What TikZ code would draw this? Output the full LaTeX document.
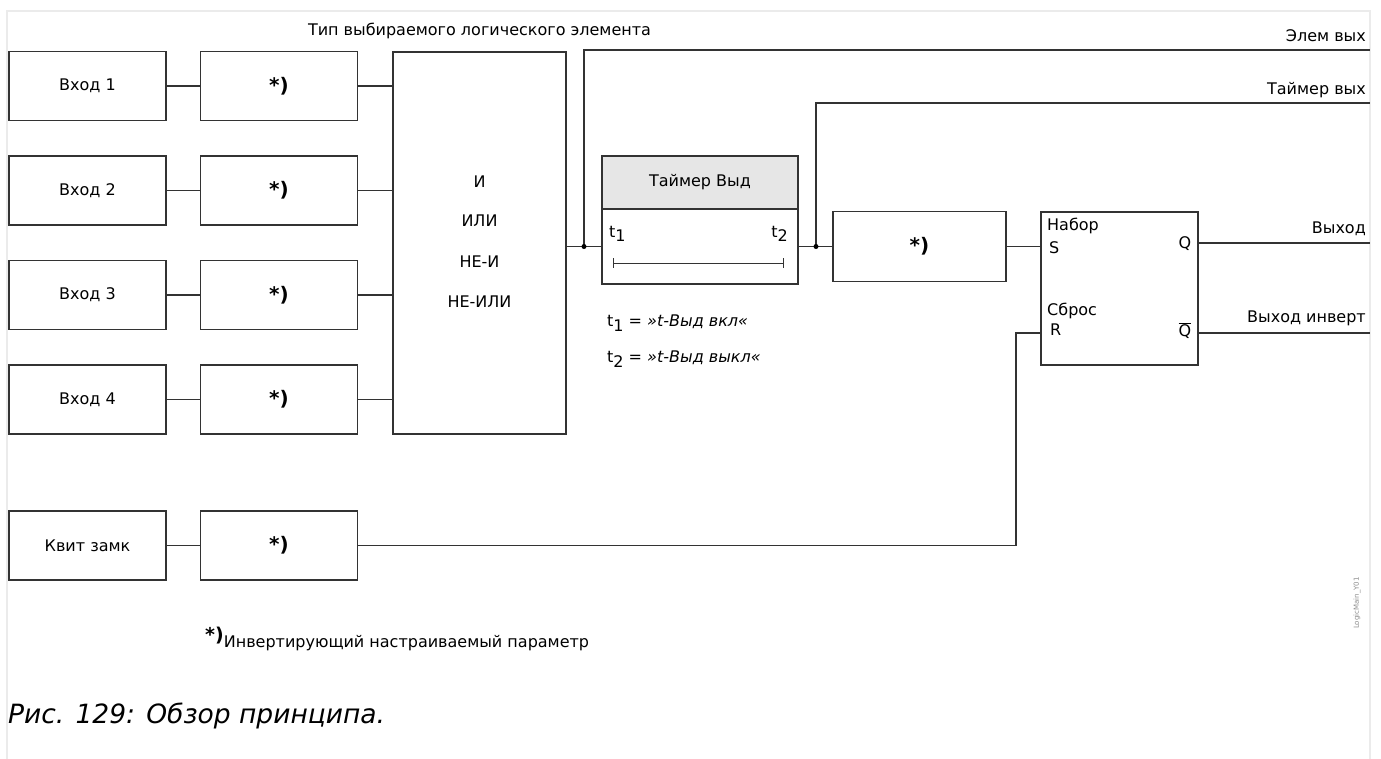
\documentclass[tikz,border=0pt]{standalone}
\usepackage{fontspec}
\setmainfont{DejaVu Sans}
\newcommand\fs{\fontsize{16}{18}\selectfont}
\newcommand\fsb{\fontsize{20}{22}\selectfont\bfseries}
\newcommand\tsub[1]{t\raisebox{-0.5ex}{#1}}
\definecolor{frame}{HTML}{EBEBEB}
\definecolor{head}{HTML}{E6E6E6}
\definecolor{ln}{HTML}{333333}
\begin{document}
\begin{tikzpicture}[x=1pt,y=-1pt,
  box/.style={draw=ln, line width=1.2pt, minimum width=157pt, minimum height=69pt, inner sep=0pt, font=\fs},
  sbox/.style={box, font=\fsb},
  conn/.style={draw=ln, line width=1.2pt},
  lbl/.style={inner sep=0pt, font=\fs},
  dot/.style={circle, fill=black, inner sep=0pt, minimum size=5pt}]
\useasboundingbox (0,0) rectangle (1381,758);
\draw[frame, line width=2pt] (7,760) -- (7,11) -- (1370,11) -- (1370,760);

% inputs
\node[box] (in1) at (87.5,86) {Вход 1};
\node[box] (in2) at (87.5,190.5) {Вход 2};
\node[box] (in3) at (87.5,295) {Вход 3};
\node[box] (in4) at (87.5,399.5) {Вход 4};
\node[box] (in5) at (87.5,545.5) {Квит замк};
\node[sbox] (s1) at (279,86) {*)};
\node[sbox] (s2) at (279,190.5) {*)};
\node[sbox] (s3) at (279,295) {*)};
\node[sbox] (s4) at (279,399.5) {*)};
\node[sbox] (s5) at (279,545.5) {*)};

% logic element
\node[box, minimum width=173pt, minimum height=382pt] (logic) at (479.5,243) {};
\node[lbl] (lA) at (479.5,182) {И};
\node[lbl] (lB) at (479.5,221) {ИЛИ};
\node[lbl] (lC) at (479.5,262) {НЕ-И};
\node[lbl] (lD) at (479.5,302) {НЕ-ИЛИ};
\node[lbl, anchor=base] (title) at (479.5,35) {Тип выбираемого логического элемента};

\foreach \i in {1,...,4}{
  \draw[conn] (in\i.east) -- (s\i.west);
  \draw[conn] (s\i.east) -- (s\i.east -| logic.west);
}
\draw[conn] (in5.east) -- (s5.west);

% timer
\node[box, fill=head, minimum width=196pt, minimum height=53pt] (th) at (700,182.5) {Таймер Выд};
\node[box, minimum width=196pt, minimum height=75pt] (tb) at (700,246.5) {};
\node[lbl, anchor=west] (t1) at (609,234) {\tsub{1}};
\node[lbl, anchor=east] (t2) at (788,234) {\tsub{2}};
\coordinate (ba) at (613,263);
\coordinate (bb) at (783,263);
\draw[ln, line width=1pt] (ba) -- (bb);
\draw[ln, line width=1pt] ([yshift=5pt]ba) -- ([yshift=-5pt]ba);
\draw[ln, line width=1pt] ([yshift=5pt]bb) -- ([yshift=-5pt]bb);
\node[lbl, anchor=west] (d1) at (607,323) {\tsub{1} = {\itshape »t-Выд вкл«}};
\node[lbl, anchor=west] (d2) at (607,359) {\tsub{2} = {\itshape »t-Выд выкл«}};

\coordinate (j1) at (584,246.5);
\coordinate (o1) at (1370,50);
\draw[conn] (logic.east |- tb.west) -- (tb.west);
\draw[conn] (j1) |- (o1);
\node[dot] at (j1) {};
\node[lbl, anchor=base east] (o1l) at (1366,41) {Элем вых};

% after timer
\node[box, font=\fsb, minimum width=173pt, minimum height=70pt] (s6) at (919.5,246.5) {*)};
\coordinate (j2) at (816,246.5);
\coordinate (o2) at (1370,103);
\draw[conn] (tb.east) -- (s6.west);
\draw[conn] (j2) |- (o2);
\node[dot] at (j2) {};
\node[lbl, anchor=base east] (o2l) at (1366,94) {Таймер вых};

% flip-flop
\node[box, minimum width=157pt, minimum height=153pt] (ff) at (1119.5,288.5) {};
\node[lbl, anchor=west] (nS) at (1047,226) {Набор};
\node[lbl, anchor=west] (S) at (1049,248) {S};
\node[lbl, anchor=west] (nR) at (1047,311) {Сброс};
\node[lbl, anchor=west] (R) at (1050,330) {R};
\node[lbl] (Q) at (1185,244) {Q};
\node[lbl] (Qb) at (1185,331) {$\overline{\mbox{Q}}$};
\draw[conn] (s6.east) -- (s6.east -| ff.west);
\coordinate (o3) at (1370,243);
\coordinate (o4) at (1370,333);
\draw[conn] (ff.east |- o3) -- (o3);
\draw[conn] (ff.east |- o4) -- (o4);
\node[lbl, anchor=base east] (o3l) at (1366,233) {Выход};
\node[lbl, anchor=base east] (o4l) at (1366,322) {Выход инверт};
\coordinate (rr) at (1016,333);
\draw[conn] (s5.east) -| (rr) -- (ff.west |- rr);

% notes
\node[inner sep=0pt, anchor=base west] (fn) at (205,641) {{\fontsize{19}{20}\selectfont\bfseries *)}\raisebox{-1.2ex}{\fs Инвертирующий настраиваемый параметр}};
\node[inner sep=0pt, anchor=base west, font=\fontsize{26.5}{28}\selectfont\itshape] (cap) at (8,723) {Рис. 129: Обзор принципа.};
\node[inner sep=0pt, rotate=90, text=black!45, font=\fontsize{7}{8}\selectfont] (id) at (1357,603) {LogicMain\_Y01};
\end{tikzpicture}
\end{document}
